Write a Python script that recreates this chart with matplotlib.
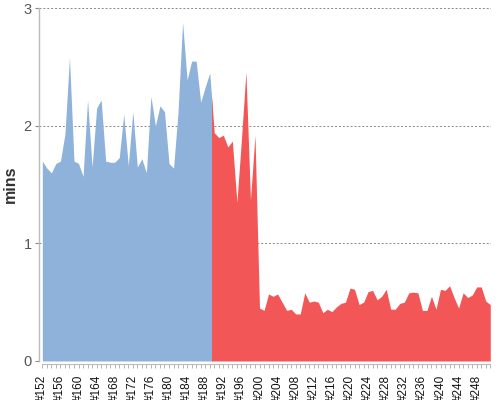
import numpy as np
import matplotlib
matplotlib.use("Agg")
from matplotlib import pyplot
from matplotlib.patches import Rectangle

# DATA------------------------------------------------------------------------------------------------------------------
# build numbers #152 .. #251, one value (mins) per build
builds = np.arange(152, 252)
mins = [
    1.70, 1.64, 1.60, 1.68, 1.70, 1.93, 2.58, 1.70, 1.68, 1.57,   # 152-161
    2.22, 1.65, 2.15, 2.22, 1.70, 1.69, 1.69, 1.73, 2.10, 1.66,   # 162-171
    2.12, 1.65, 1.72, 1.60, 2.25, 2.00, 2.17, 2.12, 1.68, 1.64,   # 172-181
    2.12, 2.88, 2.39, 2.55, 2.55, 2.20, 2.33, 2.45, 1.94, 1.90,   # 182-191
    1.92, 1.82, 1.87, 1.35, 1.88, 2.46, 1.37, 1.92, 0.45, 0.43,   # 192-201
    0.57, 0.55, 0.57, 0.50, 0.43, 0.44, 0.40, 0.40, 0.58, 0.50,   # 202-211
    0.51, 0.50, 0.41, 0.44, 0.42, 0.46, 0.49, 0.50, 0.62, 0.61,   # 212-221
    0.48, 0.50, 0.59, 0.60, 0.52, 0.55, 0.61, 0.44, 0.44, 0.49,   # 222-231
    0.50, 0.58, 0.585, 0.58, 0.43, 0.43, 0.55, 0.44, 0.61, 0.60,  # 232-241
    0.64, 0.54, 0.45, 0.58, 0.54, 0.56, 0.63, 0.63, 0.51, 0.48,   # 242-251
]
split_build = 189.5   # colour changes from blue to red here
label_builds = np.arange(152, 249, 4)
tick_labels = ["#%d" % b for b in label_builds]
y_ticks = [0, 1, 2, 3]

BLUE = "#8fb2da"
RED = "#f35656"

# PLOT------------------------------------------------------------------------------------------------------------------
pyplot.rcParams['font.family'] = ['Liberation Sans', 'DejaVu Sans']

fig = pyplot.figure(figsize=(5, 4), dpi=100)
ax = fig.add_axes([0.0774, 0.0975, 0.9036, 0.882])

xlo, xhi = 151.2, 251.05
for color, (a, b) in [(BLUE, (xlo, split_build)), (RED, (split_build, xhi))]:
    poly = ax.fill_between(builds, mins, 0, color=color, lw=0, zorder=2)
    clip = Rectangle((a, 0), b - a, 10, transform=ax.transData)
    poly.set_clip_path(clip)

ax.set_xlim(xlo, xhi)
ax.set_ylim(0, 3)

# grid and axes
ax.set_axisbelow(True)
ax.yaxis.grid(True, color="#888888", linestyle=(0, (2, 2)), lw=0.7)
for s in ("top", "right"):
    ax.spines[s].set_visible(False)
ax.spines["left"].set_color("#bbbbbb")
ax.spines["left"].set_linewidth(1.0)
ax.spines["bottom"].set_color("#bbbbbb")
ax.spines["bottom"].set_linewidth(0.8)
ax.spines["bottom"].set_position(("outward", 2))
ax.spines["bottom"].set_bounds(152, 251)

ax.set_yticks(y_ticks)
ax.set_yticklabels([str(v) for v in y_ticks], fontsize=10.5, color="#555555")
ax.tick_params(axis="y", length=3, color="#888888", pad=2)

ax.set_xticks(label_builds)
ax.set_xticklabels(tick_labels, rotation=90, fontsize=8.5, color="#111111")
ax.set_xticks(builds, minor=True)
ax.tick_params(axis="x", which="both", length=3, color="#aaaaaa", width=0.6, pad=5)

ax.set_ylabel("mins", fontsize=11.5, color="#333333", fontweight="bold", labelpad=4)

fig.savefig("out.png", dpi=100)
